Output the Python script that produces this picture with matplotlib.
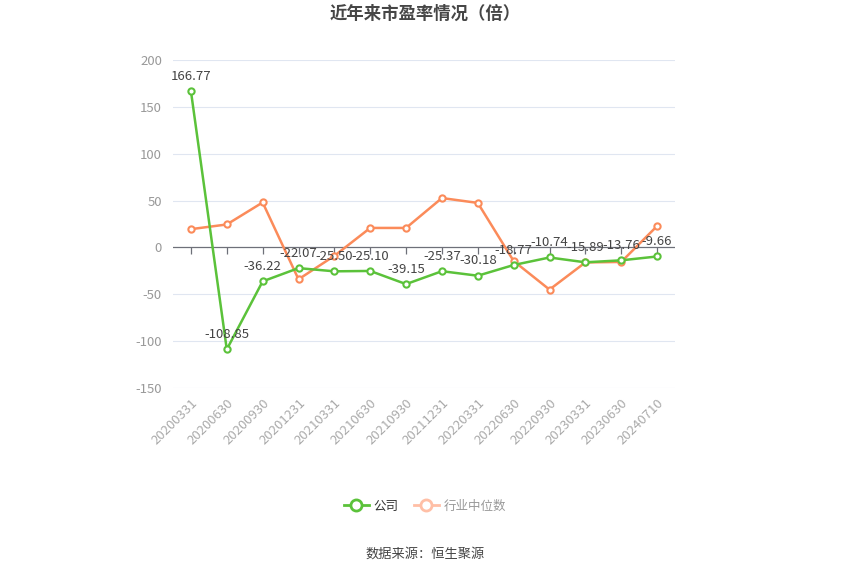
import matplotlib
matplotlib.use("Agg")
import matplotlib.pyplot as plt
from matplotlib.lines import Line2D

plt.rcParams['font.family'] = ['Noto Sans CJK SC', 'DejaVu Sans']

categories = ["20200331", "20200630", "20200930", "20201231", "20210331", "20210630",
              "20210930", "20211231", "20220331", "20220630", "20220930", "20230331",
              "20230630", "20240710"]
company = [166.77, -108.85, -36.22, -22.07, -25.50, -25.10, -39.15, -25.37, -30.18,
           -18.77, -10.74, -15.89, -13.76, -9.66]
industry = [19.5, 24.5, 48.0, -34.0, -9.0, 20.8, 20.8, 52.7, 47.5, -14.5, -45.0,
            -16.0, -15.5, 22.8]
yticks = [-150, -100, -50, 0, 50, 100, 150, 200]

green = "#5bc23a"
orange = "#fb8b5a"

fig = plt.figure(figsize=(8.5, 5.75), dpi=100)
ax = fig.add_axes([173/850, 1-388/575, (675-173)/850, (388-60)/575])

x = list(range(len(categories)))
ax.set_xlim(-0.5, len(categories) - 0.5)
ax.set_ylim(-150, 200)

for t in yticks:
    if t != 0:
        ax.axhline(t, color="#e0e6f1", lw=0.8, zorder=0)
ax.axhline(0, color="#6e7079", lw=0.9, zorder=1)

ax.plot(x, industry, color=orange, lw=1.8, marker="o", ms=4.5, mfc="white",
        mec=orange, mew=1.5, zorder=3)
ax.plot(x, company, color=green, lw=1.8, marker="o", ms=4.5, mfc="white",
        mec=green, mew=1.5, zorder=4)

for xi, v in zip(x, company):
    ax.annotate(f"{v:.2f}", (xi, v), xytext=(0, 6), textcoords="offset points",
                ha="center", va="bottom", fontsize=9.5, color="#444444", zorder=5)

for s in ax.spines.values():
    s.set_visible(False)

ax.set_yticks(yticks)
ax.set_yticklabels([str(t) for t in yticks], color="#999999", fontsize=9.5)
ax.tick_params(axis="y", length=0, pad=8)

ax.set_xticks(x)
ax.set_xticklabels(categories, rotation=45, ha="right", rotation_mode="anchor",
                   color="#aaaaaa", fontsize=9.5)
ax.tick_params(axis="x", length=0, pad=6)

sec = ax.secondary_xaxis(150 / 350)
sec.set_xticks(x)
sec.set_xticklabels([])
sec.spines["bottom"].set_visible(False)
sec.spines["top"].set_visible(False)
sec.xaxis.set_ticks_position("bottom")
sec.tick_params(axis="x", direction="out", length=5, color="#6e7079", width=0.9)

fig.text(0.5, 1 - 14/575, "近年来市盈率情况（倍）", ha="center", va="center",
         fontsize=12.5, fontweight="bold", color="#464646")

handles = [
    Line2D([0], [0], color=green, lw=2, marker="o", ms=8, mfc="white", mec=green, mew=2),
    Line2D([0], [0], color="#ffbfa6", lw=2, marker="o", ms=8, mfc="white", mec="#ffbfa6", mew=2),
]
leg = fig.legend(handles, ["公司", "行业中位数"], loc="center", bbox_to_anchor=(0.5, 1 - 506/575),
                 ncol=2, frameon=False, fontsize=9, handlelength=2, handletextpad=0.4,
                 columnspacing=1.2)
leg.get_texts()[0].set_color("#333333")
leg.get_texts()[1].set_color("#999999")

fig.text(0.5, 1 - 554/575, "数据来源：恒生聚源", ha="center", va="center",
         fontsize=9.5, color="#444444")

fig.savefig("out.png", dpi=100)
